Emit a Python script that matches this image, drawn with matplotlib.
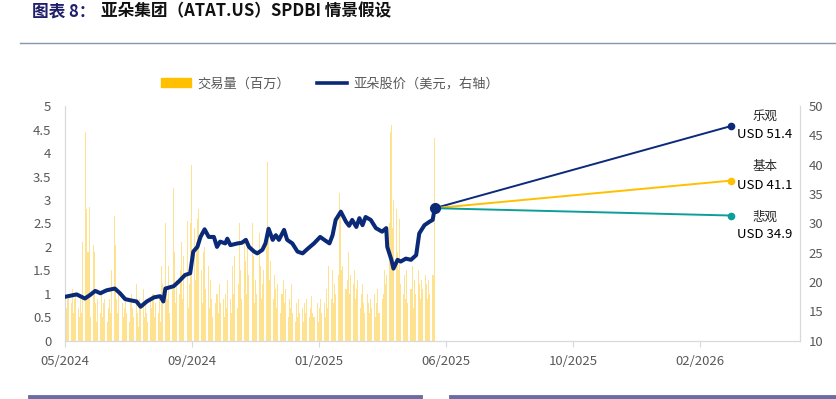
import matplotlib.pyplot as plt
import matplotlib.dates as mdates
from matplotlib.lines import Line2D
from matplotlib.patches import Patch
import pandas as pd
import numpy as np

plt.rcParams['font.family'] = ['Noto Sans CJK SC', 'DejaVu Sans']

start_date = '2024-05-28'

# daily volume, millions (left axis)
volume = [
    1.7, 0.7, 0.9, 1.0, 0.8, 1.1, 0.6, 0.9, 1.0, 0.7,
    0.5, 0.9, 0.6, 2.1, 4.45, 2.8, 1.9, 2.85, 0.5, 2.05,
    1.9, 0.8, 0.4, 0.9, 0.6, 1.0, 0.5, 0.8, 0.9, 0.4,
    0.7, 0.9, 0.6, 1.5, 2.65, 2.05, 0.9, 0.6, 1.0, 0.8,
    0.5, 0.7, 0.9, 0.6, 0.4, 0.8, 1.0, 0.7, 0.5, 1.2,
    0.6, 0.3, 0.9, 0.7, 1.1, 0.5, 0.8, 0.6, 0.4, 0.9,
    0.7, 1.0, 0.5, 0.8, 0.6, 0.9, 0.4, 1.6, 1.2, 2.5,
    1.0, 0.9, 1.6, 0.6, 1.1, 3.25, 1.9, 0.8, 1.3, 1.0,
    1.5, 2.1, 0.9, 1.8, 2.55, 0.7, 1.2, 2.5, 3.75, 2.4,
    1.3, 2.1, 2.6, 2.8, 1.5, 0.8, 1.9, 2.0, 1.1, 1.6,
    0.7, 1.3, 0.9, 0.5, 0.8, 1.0, 0.6, 1.2, 0.8, 0.9,
    0.5, 1.0, 0.7, 1.3, 0.9, 0.6, 1.6, 1.0, 1.8, 0.7,
    1.2, 2.5, 1.5, 0.9, 2.2, 1.7, 1.0, 2.0, 1.4, 2.5,
    1.8, 0.8, 1.3, 1.0, 2.3, 1.6, 0.9, 1.2, 1.5, 2.4,
    3.8, 2.4, 1.3, 1.7, 0.9, 1.4, 1.1, 0.7, 1.2, 0.6,
    1.0, 1.3, 0.8, 1.1, 0.5, 0.9, 0.7, 1.2, 0.6, 0.4,
    0.8, 0.5, 0.9, 0.6, 0.7, 0.4, 0.8, 0.6, 0.9, 0.5,
    0.7, 0.95, 0.6, 0.5, 0.8, 0.4, 0.7, 0.9, 0.6, 0.8,
    0.5, 1.1, 0.7, 1.6, 0.9, 1.5, 0.8, 1.2, 1.0, 1.4,
    3.15, 2.8, 1.5, 1.6, 1.1, 1.3, 1.9, 1.0, 1.4, 1.2,
    1.5, 0.9, 1.1, 1.3, 0.7, 1.0, 1.2, 0.8, 0.6, 1.0,
    0.8, 0.6, 0.9, 0.7, 1.0, 0.5, 0.8, 1.1, 0.6, 0.9,
    1.0, 1.5, 1.2, 1.4, 2.5, 4.45, 4.6, 2.4, 3.0, 2.8,
    1.9, 1.5, 2.6, 1.2, 1.0, 1.4, 0.9, 1.5, 0.8, 1.1,
    1.6, 0.7, 1.3, 1.0, 1.5, 1.2, 0.9, 1.3, 1.1, 1.4,
    1.2, 0.9, 1.3, 1.0, 1.4, 1.4, 4.33,
]

# share price USD (right axis), days after start_date
price_days = [0, 11, 19, 24, 29, 34, 40, 48, 53, 58, 63, 69, 73, 79, 86, 92, 95, 97,
              105, 110, 116, 121, 124, 128, 131, 135, 139, 144, 147, 150, 155, 157,
              160, 167, 171, 175, 178, 183, 186, 191, 194, 197, 201, 204, 207, 212,
              215, 220, 225, 230, 235, 241, 247, 251, 256, 259, 262, 267, 272, 275,
              278, 282, 285, 288, 291, 296, 301, 307, 311, 312, 316, 318, 322, 325,
              330, 335, 340, 343, 348, 353, 356, 358]
price = [17.5, 17.9, 17.2, 17.8, 18.5, 18.1, 18.6, 18.9, 18.1, 17.1, 16.9, 16.7, 15.8,
         16.7, 17.4, 17.6, 16.7, 18.9, 19.3, 20.1, 21.2, 21.5, 25.2, 26.0, 27.7, 29.0,
         27.7, 27.7, 26.0, 26.9, 26.6, 27.4, 26.3, 26.6, 26.7, 27.2, 26.0, 25.2, 24.9,
         25.5, 26.6, 29.1, 27.2, 28.0, 27.2, 28.9, 27.2, 26.6, 25.2, 24.9, 25.7, 26.6,
         27.7, 27.2, 26.6, 28.0, 30.6, 32.0, 30.3, 29.6, 30.6, 29.4, 30.9, 29.7, 31.1,
         30.6, 29.2, 28.6, 29.2, 26.0, 23.8, 22.3, 23.8, 23.5, 24.0, 23.8, 24.6, 28.3,
         29.7, 30.3, 30.6, 32.6]

scenario_end_date = '2026-03-04'
scenario_names = ['乐观', '基本', '悲观']
scenario_prices = ['USD 51.4', 'USD 41.1', 'USD 34.9']
scenario_values = [46.6, 37.3, 31.35]
scenario_colors = ['#0B2A7A', '#FFC000', '#0E9E9A']
label_offsets = [(7, -6), (10, -3.5), (-1, -13.5)]

tick_step_days = 123
x_span_days = 712

navy = '#0A2A78'
grey = '#595959'
axis_grey = '#D9D9D9'

start = pd.Timestamp(start_date)
vol_dates = pd.bdate_range(start=start, periods=len(volume))
p_dates = [start + pd.Timedelta(days=d) for d in price_days]
end_date = pd.Timestamp(scenario_end_date)

fig = plt.figure(figsize=(8.36, 3.99), dpi=100)
ax = fig.add_axes([0.0781, 0.146, 0.957 - 0.0781, 0.734 - 0.146])
ax2 = ax.twinx()

ax.bar(vol_dates, volume, width=1.0, color='#FFE28F', linewidth=0, zorder=1)
ax.set_ylim(0, 5)
ax.set_yticks(np.arange(0, 5.01, 0.5))
ax.set_yticklabels(['0', '0.5', '1', '1.5', '2', '2.5', '3', '3.5', '4', '4.5', '5'])

ax2.plot(p_dates, price, color=navy, lw=2.9, solid_joinstyle='round', zorder=3)
for val, col in zip(scenario_values, scenario_colors):
    ax2.plot([p_dates[-1], end_date], [price[-1], val], color=col, lw=1.4, zorder=2)
    ax2.plot(end_date, val, 'o', color=col, ms=4.5, zorder=4)
ax2.plot(p_dates[-1], price[-1], 'o', color=navy, ms=7, zorder=5)
for name, usd, val, off in zip(scenario_names, scenario_prices, scenario_values, label_offsets):
    ax2.annotate(name, (end_date, val), xytext=(24.5, off[0]), textcoords='offset points',
                 ha='center', va='center', fontsize=9, color='#262626')
    ax2.annotate(usd, (end_date, val), xytext=(24.5, off[1]), textcoords='offset points',
                 ha='center', va='center', fontsize=9.5, color='#000000')
ax2.set_ylim(10, 50)
ax2.set_yticks(range(10, 51, 5))

ticks = [start + pd.Timedelta(days=tick_step_days * k) for k in range(6)]
ax.set_xlim(start, start + pd.Timedelta(days=x_span_days))
ax.set_xticks(ticks)
ax.xaxis.set_major_formatter(mdates.DateFormatter('%m/%Y'))

for a in (ax, ax2):
    for s in a.spines.values():
        s.set_color(axis_grey)
        s.set_linewidth(0.8)
    a.spines['top'].set_visible(False)
    a.tick_params(colors=grey, labelsize=9.5, length=0)
ax.tick_params(axis='x', length=4, color=axis_grey, pad=6)
ax.tick_params(axis='y', pad=10)
ax2.tick_params(axis='y', pad=6)

# legend
handles = [Patch(color='#FFC000'), Line2D([0], [0], color=navy, lw=2.6)]
fig.legend(handles, ['交易量（百万）', '亚朵股价（美元，右轴）'], loc='center',
           bbox_to_anchor=(0.395, 0.79), ncol=2, frameon=False, fontsize=9.5,
           labelcolor=grey, handlelength=2.3, handleheight=0.6, columnspacing=2.0,
           handletextpad=0.5)

# title and decoration
fig.text(0.038, 0.972, '图表 8：', fontsize=12, fontweight='bold', color='#1F1F6B',
         va='center', ha='left')
fig.text(0.121, 0.972, '亚朵集团（ATAT.US）SPDBI 情景假设', fontsize=12, fontweight='bold',
         color='#111111', va='center', ha='left')
fig.add_artist(Line2D([20 / 836, 1.0], [1 - 43 / 399] * 2, color='#8496B0', lw=1.0))
fig.add_artist(Line2D([30 / 836, 420 / 836], [0.004, 0.004], color='#6B6BA6', lw=3.5))
fig.add_artist(Line2D([451 / 836, 1.0], [0.004, 0.004], color='#6B6BA6', lw=3.5))

fig.savefig('out.png', dpi=100)
